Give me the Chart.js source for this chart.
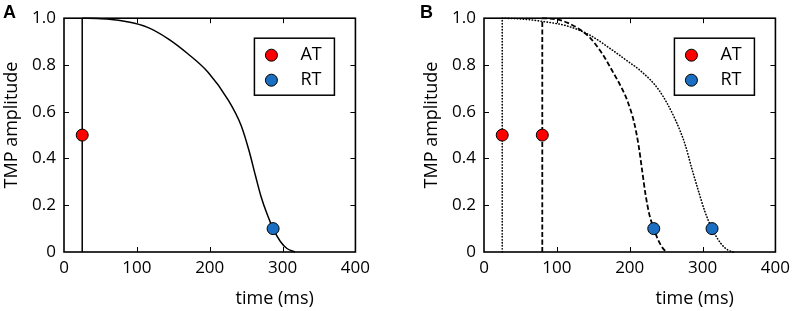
<!DOCTYPE html>
<html>
<head>
<meta charset="utf-8">
<script src="https://cdn.jsdelivr.net/npm/chart.js@4.4.1/dist/chart.umd.min.js"></script>
<style>
  html, body { margin: 0; padding: 0; background: #fff; }
  body { width: 796px; height: 311px; position: relative; overflow: hidden; }
  .panel { position: absolute; top: 0; width: 376px; height: 311px; }
  #panelA { left: 0; }
  #panelB { left: 420px; }
</style>
</head>
<body>
<div class="panel" id="panelA"><canvas id="chartA"></canvas></div>
<div class="panel" id="panelB"><canvas id="chartB"></canvas></div>
<script>
// tick values
const xTicks = [0, 100, 200, 300, 400];
const yTicks = [0, 0.2, 0.4, 0.6, 0.8, 1.0];

// panel A: single TMP
const timeA = [25, 45, 62, 85, 114, 143, 170, 198, 225, 243, 254, 263, 270, 279, 287, 297, 306, 317];
const ampA = [1.0, 0.999, 0.996, 0.986, 0.962, 0.912, 0.848, 0.768, 0.652, 0.542, 0.433, 0.324, 0.242, 0.16, 0.1, 0.045, 0.015, 0.0];
const atA = [25];
const rtA = [287];

// panel B: dashed (late activation) and dotted (early activation) TMPs
const timeDashed = [80, 100, 115, 130, 145, 163, 176, 190, 197, 206, 212.5, 217, 221.5, 227, 233, 240, 247, 251];
const ampDashed = [1.0, 0.995, 0.98, 0.955, 0.918, 0.845, 0.775, 0.695, 0.645, 0.555, 0.45, 0.35, 0.25, 0.16, 0.1, 0.045, 0.01, 0.0];
const timeDotted = [25, 50, 81, 115, 145, 176, 199, 213, 240, 262, 276, 285, 294, 303, 313, 325, 335, 342];
const ampDotted = [1.0, 0.997, 0.986, 0.966, 0.928, 0.864, 0.812, 0.78, 0.693, 0.57, 0.46, 0.36, 0.265, 0.175, 0.1, 0.037, 0.008, 0.0];
const atB = [25, 80];
const rtB = [233, 313];

const atLevel = 0.5;
const rtLevel = 0.1;

const AT_COLOR = '#ff0000';
const RT_COLOR = '#1b6fc2';
const FONT = '"Open Sans", "DejaVu Sans", sans-serif';

const toXY = (xs, ys) => xs.map((x, i) => ({ x, y: ys[i] }));
const level = (xs, v) => xs.map(x => ({ x, y: v }));
const upstroke = (t) => [{ x: t, y: 0 }, { x: t, y: 1 }];

function curve(data, dash, width, cap = 'butt') {
    return {
        data,
        showLine: true,
        borderColor: '#000',
        borderWidth: width,
        borderDash: dash,
        borderCapStyle: cap,
        pointRadius: 0,
        cubicInterpolationMode: 'monotone',
        clip: 4,
        order: 2
    };
}

function markers(data, color) {
    return {
        data,
        showLine: false,
        pointRadius: 6,
        pointHoverRadius: 6,
        pointBackgroundColor: color,
        pointBorderColor: '#000',
        pointBorderWidth: 1,
        clip: 8,
        order: 0
    };
}

// frame round the plot with inward ticks on all four sides
const frameTicks = {
    id: 'frameTicks',
    afterDatasetsDraw(chart) {
        const { ctx, chartArea: a, scales: { x, y } } = chart;
        ctx.save();
        ctx.strokeStyle = '#000';
        ctx.lineWidth = 1;
        ctx.beginPath();
        xTicks.slice(1, -1).forEach(v => {
            const px = Math.round(x.getPixelForValue(v)) + 0.5;
            ctx.moveTo(px, a.bottom); ctx.lineTo(px, a.bottom - 5);
            ctx.moveTo(px, a.top); ctx.lineTo(px, a.top + 5);
        });
        yTicks.slice(1, -1).forEach(v => {
            const py = Math.round(y.getPixelForValue(v)) + 0.5;
            ctx.moveTo(a.left, py); ctx.lineTo(a.left + 5, py);
            ctx.moveTo(a.right, py); ctx.lineTo(a.right - 5, py);
        });
        ctx.stroke();
        ctx.lineWidth = 1.6;
        ctx.strokeRect(a.left, a.top, a.right - a.left, a.bottom - a.top);
        ctx.restore();
    }
};

// legend box, axis titles and panel letter
const decorations = {
    id: 'decorations',
    afterDraw(chart, args, opts) {
        const { ctx, chartArea: a } = chart;
        ctx.save();

        // legend
        const bw = 80, bh = 57;
        const bx = a.right - 21 - bw, by = a.top + 20;
        ctx.fillStyle = '#fff';
        ctx.fillRect(bx, by, bw, bh);
        ctx.strokeStyle = '#000';
        ctx.lineWidth = 1.5;
        ctx.strokeRect(bx, by, bw, bh);
        [['AT', AT_COLOR, 17], ['RT', RT_COLOR, 42]].forEach(([label, color, dy]) => {
            ctx.beginPath();
            ctx.arc(bx + 17, by + dy, 6, 0, Math.PI * 2);
            ctx.fillStyle = color;
            ctx.fill();
            ctx.lineWidth = 1;
            ctx.stroke();
            ctx.fillStyle = '#000';
            ctx.font = '18px ' + FONT;
            ctx.textAlign = 'left';
            ctx.textBaseline = 'middle';
            ctx.fillText(label, bx + 46, by + dy);
        });

        // axis titles
        ctx.fillStyle = '#000';
        ctx.font = '18px ' + FONT;
        ctx.textAlign = 'center';
        ctx.textBaseline = 'middle';
        ctx.fillText('time (ms)', (a.left + a.right) / 2 + 65, 299);
        ctx.save();
        ctx.translate(12, 125);
        ctx.rotate(-Math.PI / 2);
        ctx.fillText('TMP amplitude', 0, 0);
        ctx.restore();

        // panel letter
        ctx.font = 'bold 18px "Liberation Sans", Arial, sans-serif';
        ctx.textAlign = 'left';
        ctx.textBaseline = 'alphabetic';
        ctx.fillText(opts.letter, opts.letterX, 18);
        ctx.restore();
    }
};

function makeChart(id, datasets, letter, letterX) {
    return new Chart(document.getElementById(id), {
        type: 'scatter',
        data: { datasets },
        options: {
            responsive: true,
            maintainAspectRatio: false,
            animation: false,
            events: [],
            layout: { padding: { top: 8, right: 17, left: 0, bottom: 0 } },
            scales: {
                x: {
                    type: 'linear',
                    min: 0,
                    max: 400,
                    afterBuildTicks: (s) => { s.ticks = xTicks.map(v => ({ value: v })); },
                    afterFit: (s) => { s.height = 59; },
                    grid: { display: false, drawTicks: false },
                    border: { display: false },
                    ticks: {
                        color: '#000',
                        padding: 6,
                        maxRotation: 0,
                        font: { family: FONT, size: 17 }
                    }
                },
                y: {
                    min: 0,
                    max: 1,
                    afterBuildTicks: (s) => { s.ticks = yTicks.map(v => ({ value: v })); },
                    afterFit: (s) => { s.width = 64; },
                    grid: { display: false, drawTicks: false },
                    border: { display: false },
                    ticks: {
                        color: '#000',
                        padding: 8,
                        font: { family: FONT, size: 17 },
                        callback: (v) => v === 0 ? '0' : v.toFixed(1)
                    }
                }
            },
            plugins: {
                legend: { display: false },
                tooltip: { enabled: false },
                decorations: { letter, letterX }
            }
        },
        plugins: [frameTicks, decorations]
    });
}

makeChart('chartA', [
    markers(level(atA, atLevel), AT_COLOR),
    markers(level(rtA, rtLevel), RT_COLOR),
    curve(upstroke(atA[0]), [], 1.5),
    curve(toXY(timeA, ampA), [], 1.5)
], 'A', 3);

makeChart('chartB', [
    markers(level(atB, atLevel), AT_COLOR),
    markers(level(rtB, rtLevel), RT_COLOR),
    curve(upstroke(atB[0]), [0.4, 2.6], 1.6, 'round'),
    curve(toXY(timeDotted, ampDotted), [0.4, 2.6], 1.6, 'round'),
    curve(upstroke(atB[1]), [5, 2.5], 1.8),
    curve(toXY(timeDashed, ampDashed), [5, 2.5], 1.8)
], 'B', 0);
</script>
</body>
</html>
